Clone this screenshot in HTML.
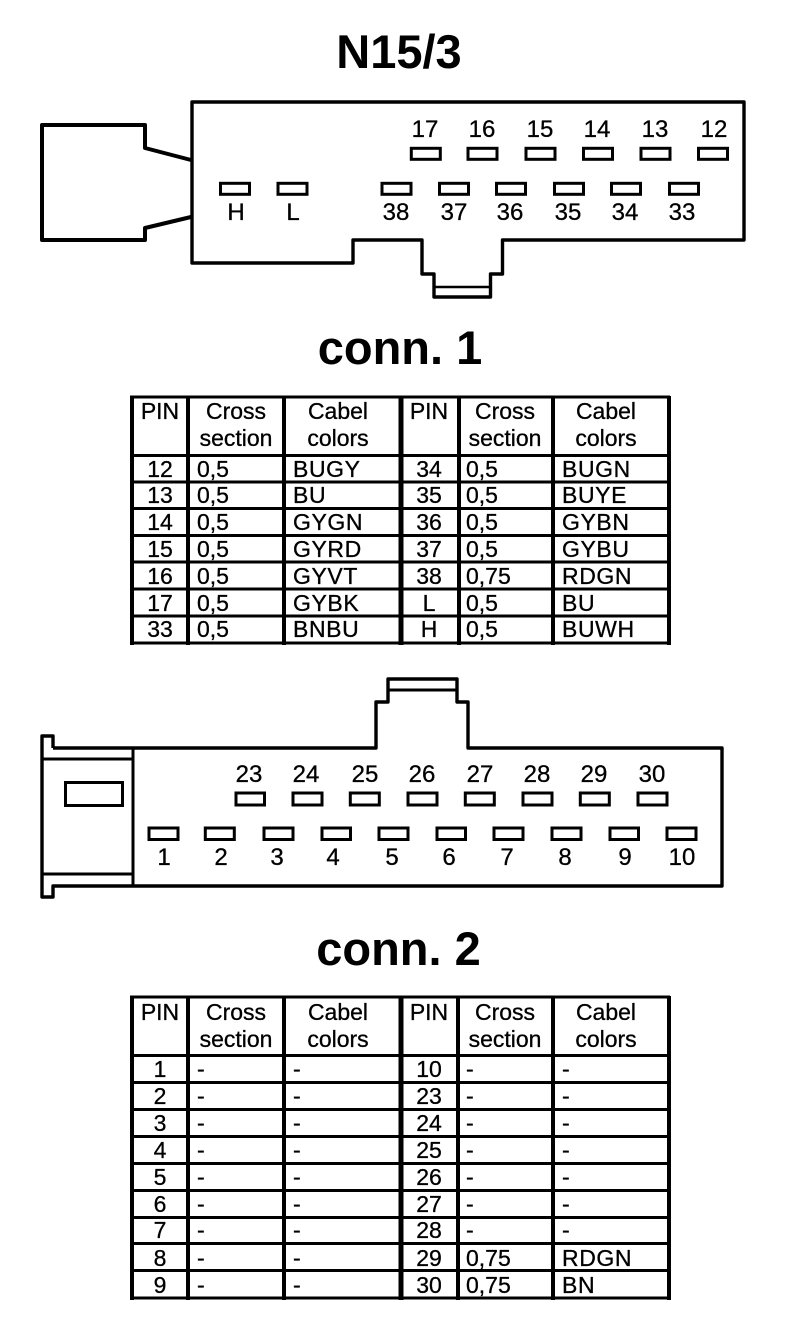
<!DOCTYPE html>
<html><head><meta charset="utf-8"><style>
html,body{margin:0;padding:0;background:#fff}
svg{display:block}
text{font-family:"Liberation Sans",sans-serif;fill:#000}
.t{font-size:47px;font-weight:bold;text-anchor:middle}
.l{font-size:24px;text-anchor:middle;stroke:#000;stroke-width:.3}
.c{font-size:23px;text-anchor:middle;stroke:#000;stroke-width:.3}
.s{font-size:23px;stroke:#000;stroke-width:.3}
.w{letter-spacing:.6px}
.o{fill:none;stroke:#000;stroke-linejoin:round}
.p{fill:#fff;stroke:#000;stroke-width:3}
.g{stroke:#000;stroke-width:3;shape-rendering:crispEdges}
</style></head><body>
<svg width="800" height="1342" viewBox="0 0 800 1342" xmlns="http://www.w3.org/2000/svg">
<rect width="800" height="1342" fill="#fff"/>
<text class="t" x="399" y="68">N15/3</text>
<text class="t" x="400" y="364">conn. 1</text>
<text class="t" x="398.500" y="965">conn. 2</text>

<!-- Connector 1 -->
<path class="o" stroke-width="3.400" d="M192 240V102H744V240H502.500V274H490.500V297H434V274H422V240H353V263H192V240"/>
<path class="o" stroke-width="4" d="M191 160L145 148V125H42V240H145V228L191 217"/>
<path class="o" stroke-width="2.600" d="M434 287H491"/>
<g class="p">
<rect x="411.300" y="148.300" width="29" height="11"/><rect x="468" y="148.300" width="29" height="11"/><rect x="526" y="148.300" width="29" height="11"/><rect x="583.500" y="148.300" width="29" height="11"/><rect x="641" y="148.300" width="29" height="11"/><rect x="698.500" y="148.300" width="29" height="11"/>
<rect x="220.500" y="183.300" width="29" height="11"/><rect x="278" y="183.300" width="29" height="11"/><rect x="382" y="183.300" width="29" height="11"/><rect x="439.500" y="183.300" width="29" height="11"/><rect x="496.500" y="183.300" width="29" height="11"/><rect x="554.500" y="183.300" width="29" height="11"/><rect x="611.500" y="183.300" width="29" height="11"/><rect x="669.500" y="183.300" width="29" height="11"/>
</g>
<g class="l">
<text x="425" y="137">17</text><text x="482" y="137">16</text><text x="540" y="137">15</text><text x="597" y="137">14</text><text x="655" y="137">13</text><text x="714" y="137">12</text>
<text x="236" y="220">H</text><text x="293" y="220">L</text><text x="396" y="220">38</text><text x="454" y="220">37</text><text x="510" y="220">36</text><text x="568" y="220">35</text><text x="625" y="220">34</text><text x="682" y="220">33</text>
</g>

<!-- Table 1 -->
<g class="g">
<path d="M130 397H670M130 455.500H670M130 482H670M130 508.500H670M130 535.500H670M130 562H670M130 589H670M130 616H670M130 643H670"/>
<path stroke-width="4" d="M132 396V645M188 396V645M284 396V645M459 396V645M553 396V645M669 396V645"/>
<path stroke-width="5" d="M401 396V645"/>
</g>
<g class="c">
<text x="160" y="419">PIN</text><text x="236" y="419">Cross</text><text x="236" y="446">section</text><text x="338" y="419">Cabel</text><text x="338" y="446">colors</text>
<text x="429" y="419">PIN</text><text x="505" y="419">Cross</text><text x="505" y="446">section</text><text x="606" y="419">Cabel</text><text x="606" y="446">colors</text>
<text x="160" y="477">12</text><text x="160" y="503">13</text><text x="160" y="530">14</text><text x="160" y="557">15</text><text x="160" y="584">16</text><text x="160" y="611">17</text><text x="160" y="637">33</text>
<text x="429" y="477">34</text><text x="429" y="503">35</text><text x="429" y="530">36</text><text x="429" y="557">37</text><text x="429" y="584">38</text><text x="429" y="611">L</text><text x="429" y="637">H</text>
</g>
<g class="s">
<text x="197" y="477">0,5</text><text x="197" y="503">0,5</text><text x="197" y="530">0,5</text><text x="197" y="557">0,5</text><text x="197" y="584">0,5</text><text x="197" y="611">0,5</text><text x="197" y="637">0,5</text>
<g class="w"><text x="293" y="477">BUGY</text><text x="293" y="503">BU</text><text x="293" y="530">GYGN</text><text x="293" y="557">GYRD</text><text x="293" y="584">GYVT</text><text x="293" y="611">GYBK</text><text x="293" y="637">BNBU</text></g>
<text x="466" y="477">0,5</text><text x="466" y="503">0,5</text><text x="466" y="530">0,5</text><text x="466" y="557">0,5</text><text x="466" y="584">0,75</text><text x="466" y="611">0,5</text><text x="466" y="637">0,5</text>
<g class="w"><text x="562" y="477">BUGN</text><text x="562" y="503">BUYE</text><text x="562" y="530">GYBN</text><text x="562" y="557">GYBU</text><text x="562" y="584">RDGN</text><text x="562" y="611">BU</text><text x="562" y="637">BUWH</text></g>
</g>

<!-- Connector 2 -->
<path class="o" stroke-width="3.400" d="M53 748H376V702H388V679H457V702H468V748H722V886H53V897H42V736H53V748"/>
<path class="o" stroke-width="3" d="M388 690H457M42 759H133M42 874H133M133 748V886"/>
<rect class="p" x="65.500" y="782.500" width="57" height="23"/>
<g class="p">
<rect x="236" y="793" width="28.500" height="12"/><rect x="293" y="793" width="29" height="12"/><rect x="350.300" y="793" width="29" height="12"/><rect x="408" y="793" width="29" height="12"/><rect x="465.300" y="793" width="29" height="12"/><rect x="523" y="793" width="29" height="12"/><rect x="580.300" y="793" width="29" height="12"/><rect x="638" y="793" width="29" height="12"/>
<rect x="149" y="828" width="29" height="11.500"/><rect x="205.300" y="828" width="29" height="11.500"/><rect x="264" y="828" width="29" height="11.500"/><rect x="322" y="828" width="28.500" height="11.500"/><rect x="379" y="828" width="29" height="11.500"/><rect x="437" y="828" width="28.500" height="11.500"/><rect x="494" y="828" width="29" height="11.500"/><rect x="552" y="828" width="29" height="11.500"/><rect x="610" y="828" width="28.500" height="11.500"/><rect x="667" y="828" width="29" height="11.500"/>
</g>
<g class="l">
<text x="249" y="782">23</text><text x="306" y="782">24</text><text x="365" y="782">25</text><text x="422" y="782">26</text><text x="480" y="782">27</text><text x="537" y="782">28</text><text x="594" y="782">29</text><text x="652" y="782">30</text>
<text x="164" y="865">1</text><text x="221" y="865">2</text><text x="277" y="865">3</text><text x="333" y="865">4</text><text x="392" y="865">5</text><text x="449" y="865">6</text><text x="507" y="865">7</text><text x="565" y="865">8</text><text x="625" y="865">9</text><text x="682" y="865">10</text>
</g>

<!-- Table 2 -->
<g class="g">
<path d="M130 997H670M130 1055.500H670M130 1082.500H670M130 1109.500H670M130 1136.500H670M130 1163.500H670M130 1190.500H670M130 1217.500H670M130 1243.500H670M130 1270.500H670M130 1298H670"/>
<path stroke-width="4" d="M132 996V1300M188 996V1300M284 996V1300M458 996V1300M553 996V1300M669 996V1300"/>
<path stroke-width="5" d="M401 996V1300"/>
</g>
<g class="c">
<text x="160" y="1020">PIN</text><text x="236" y="1020">Cross</text><text x="236" y="1047">section</text><text x="338" y="1020">Cabel</text><text x="338" y="1047">colors</text>
<text x="429" y="1020">PIN</text><text x="505" y="1020">Cross</text><text x="505" y="1047">section</text><text x="606" y="1020">Cabel</text><text x="606" y="1047">colors</text>
<text x="160" y="1077">1</text><text x="160" y="1104">2</text><text x="160" y="1131">3</text><text x="160" y="1158">4</text><text x="160" y="1185">5</text><text x="160" y="1212">6</text><text x="160" y="1238">7</text><text x="160" y="1266">8</text><text x="160" y="1293">9</text>
<text x="429" y="1077">10</text><text x="429" y="1104">23</text><text x="429" y="1131">24</text><text x="429" y="1158">25</text><text x="429" y="1185">26</text><text x="429" y="1212">27</text><text x="429" y="1238">28</text><text x="429" y="1266">29</text><text x="429" y="1293">30</text>
</g>
<g class="s">
<text x="197" y="1077">-</text><text x="197" y="1104">-</text><text x="197" y="1131">-</text><text x="197" y="1158">-</text><text x="197" y="1185">-</text><text x="197" y="1212">-</text><text x="197" y="1238">-</text><text x="197" y="1266">-</text><text x="197" y="1293">-</text>
<text x="293" y="1077">-</text><text x="293" y="1104">-</text><text x="293" y="1131">-</text><text x="293" y="1158">-</text><text x="293" y="1185">-</text><text x="293" y="1212">-</text><text x="293" y="1238">-</text><text x="293" y="1266">-</text><text x="293" y="1293">-</text>
<text x="466" y="1077">-</text><text x="466" y="1104">-</text><text x="466" y="1131">-</text><text x="466" y="1158">-</text><text x="466" y="1185">-</text><text x="466" y="1212">-</text><text x="466" y="1238">-</text><text x="466" y="1266">0,75</text><text x="466" y="1293">0,75</text>
<text x="562" y="1077">-</text><text x="562" y="1104">-</text><text x="562" y="1131">-</text><text x="562" y="1158">-</text><text x="562" y="1185">-</text><text x="562" y="1212">-</text><text x="562" y="1238">-</text><g class="w"><text x="562" y="1266">RDGN</text><text x="562" y="1293">BN</text></g>
</g>
</svg>
</body></html>
